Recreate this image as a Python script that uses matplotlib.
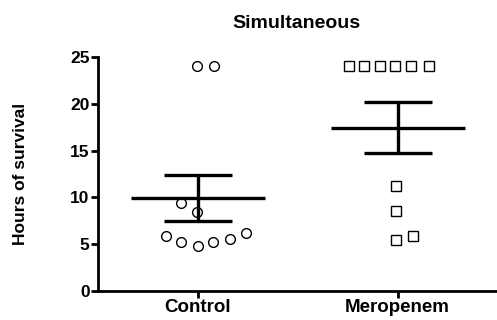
"""Scatter of survival hours per group with mean and SEM bars."""

import matplotlib

matplotlib.use("Agg")
import matplotlib.pyplot as plt

plt.rcParams["font.family"] = ["Liberation Sans", "DejaVu Sans"]

groups = ["Control", "Meropenem"]

control_hours = [24, 24, 9.4, 8.4, 5.85, 5.2, 4.8, 5.2, 5.6, 6.2]
control_offsets = [-0.005, 0.08, -0.085, -0.005, -0.16, -0.085, 0.0, 0.075, 0.16, 0.24]

meropenem_hours = [24, 24, 24, 24, 24, 24, 11.2, 8.5, 5.4, 5.85]
meropenem_offsets = [-0.245, -0.17, -0.09, -0.015, 0.065, 0.155, -0.01, -0.01, -0.01, 0.075]

group_means = [9.9, 17.45]
group_sems = [2.45, 2.7]

fig = plt.figure(figsize=(4.97, 3.2), dpi=100)
ax = fig.add_axes([0.197, 0.0906, 0.80, 0.7314])

ax.plot(
    [0 + o for o in control_offsets], control_hours,
    linestyle="none", marker="o", markersize=7,
    markerfacecolor="white", markeredgecolor="black", markeredgewidth=1.0,
)
ax.plot(
    [1 + o for o in meropenem_offsets], meropenem_hours,
    linestyle="none", marker="s", markersize=6.5,
    markerfacecolor="white", markeredgecolor="black", markeredgewidth=1.0,
)

for i, (m, s) in enumerate(zip(group_means, group_sems)):
    ax.hlines(m, i - 0.335, i + 0.335, color="black", linewidth=2.4)
    ax.hlines([m - s, m + s], i - 0.17, i + 0.17, color="black", linewidth=2.4)
    ax.vlines(i, m - s, m + s, color="black", linewidth=2.4)

ax.set_xlim(-0.5, 1.49)
ax.set_ylim(0, 25)
ax.set_yticks([0, 5, 10, 15, 20, 25])
ax.set_xticks([0, 1])
ax.set_xticklabels(groups, fontsize=13.5, fontweight="bold")
for lbl in ax.get_yticklabels():
    lbl.set_fontsize(12.5)
    lbl.set_fontweight("bold")

ax.spines["top"].set_visible(False)
ax.spines["right"].set_visible(False)
ax.spines["left"].set_linewidth(2)
ax.spines["bottom"].set_linewidth(2)
ax.tick_params(axis="both", width=2, length=5, pad=1)

ax.set_ylabel("Hours of survival", fontsize=12.5, fontweight="bold")
ax.yaxis.set_label_coords(-0.175, 0.5)
ax.set_title("Simultaneous", fontsize=14, fontweight="bold", pad=21)

fig.savefig("out.png", dpi=100)
plt.close(fig)
